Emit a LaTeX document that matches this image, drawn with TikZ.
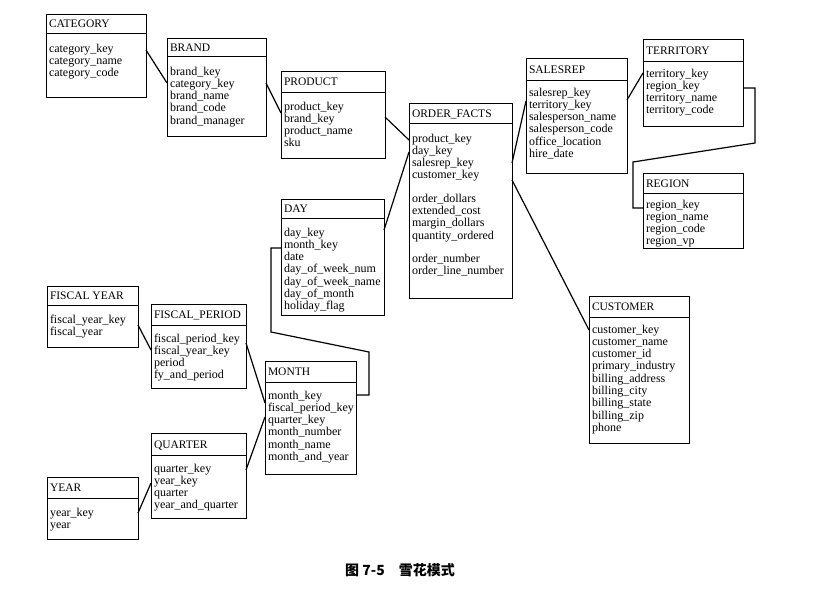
\documentclass[tikz,border=0pt]{standalone}
\usepackage{fontspec}
\setmainfont{Liberation Serif}
\newfontfamily\cjk{Noto Sans CJK SC}
\newcommand\erTable[9]{%
  \node[hdr, minimum height=#5pt] (#1) at (#2,#3)
    {\parbox[b]{\dimexpr#4pt-6pt\relax}{#8}};
  \node[bdy] (#1b) at (#1.south west)
    {\parbox[c][#6pt][t]{\dimexpr#4pt-6pt\relax}{\fontsize{12}{12.3}\selectfont\raggedright\rule{0pt}{#7pt}#9}};
}
\begin{document}
\begin{tikzpicture}[x=1pt,y=-1pt,
  hdr/.style={draw, line width=0.9pt, anchor=north west, outer sep=0pt,
    inner xsep=3pt, inner ysep=0pt, text height=8.5pt, text depth=0pt,
    font=\fontsize{11.5}{12}\selectfont},
  bdy/.style={draw, line width=0.9pt, anchor=north west, outer sep=0pt,
    inner xsep=3pt, inner ysep=0pt},
  conn/.style={line width=1.2pt, line join=miter}]
\useasboundingbox (0,0) rectangle (816,600);

\erTable{cat}{46}{14}{100}{19}{64}{19}{CATEGORY}{category\_key\\category\_name\\category\_code}
\erTable{brand}{167}{38}{99}{18}{80}{19}{BRAND}{brand\_key\\category\_key\\brand\_name\\brand\_code\\brand\_manager}
\erTable{prod}{281}{71}{104}{21}{66}{18}{PRODUCT}{product\_key\\brand\_key\\product\_name\\sku}
\erTable{of}{409}{103}{103}{20}{175}{19}{ORDER\_FACTS}{product\_key\\day\_key\\salesrep\_key\\customer\_key\\[11pt]order\_dollars\\extended\_cost\\margin\_dollars\\quantity\_ordered\\[11pt]order\_number\\order\_line\_number}
\erTable{day}{281}{199}{103}{19}{97}{18}{DAY}{day\_key\\month\_key\\date\\day\_of\_week\_num\\day\_of\_week\_name\\day\_of\_month\\holiday\_flag}
\erTable{sales}{526}{58}{101}{22}{93}{16}{SALESREP}{salesrep\_key\\territory\_key\\salesperson\_name\\salesperson\_code\\office\_location\\hire\_date}
\erTable{terr}{643}{39}{100}{22}{65}{16}{TERRITORY}{territory\_key\\region\_key\\territory\_name\\territory\_code}
\erTable{reg}{643}{173}{100}{20}{55}{15}{REGION}{region\_key\\region\_name\\region\_code\\region\_vp}
\erTable{fy}{47}{286}{91}{19}{42}{18}{FISCAL YEAR}{fiscal\_year\_key\\fiscal\_year}
\erTable{fp}{151}{304}{95}{21}{63}{17}{FISCAL\_PERIOD}{fiscal\_period\_key\\fiscal\_year\_key\\period\\fy\_and\_period}
\erTable{month}{265}{361}{91}{21}{92}{17}{MONTH}{month\_key\\fiscal\_period\_key\\quarter\_key\\month\_number\\month\_name\\month\_and\_year}
\erTable{qtr}{151}{433}{95}{22}{63}{17}{QUARTER}{quarter\_key\\year\_key\\quarter\\year\_and\_quarter}
\erTable{year}{47}{477}{91}{21}{41}{18}{YEAR}{year\_key\\year}
\erTable{cust}{589}{296}{100}{21}{126}{16}{CUSTOMER}{customer\_key\\customer\_name\\customer\_id\\primary\_industry\\billing\_address\\billing\_city\\billing\_state\\billing\_zip\\phone}

% connectors
\draw[conn] ([yshift=-17pt]catb.north east) -- ([yshift=-27pt]brandb.north west);
\draw[conn] ([yshift=-27pt]brandb.north east) -- ([yshift=-21pt]prodb.north west);
\draw[conn] ([yshift=-25pt]prodb.north east) -- ([yshift=-17pt]ofb.north west);
\draw[conn] ([yshift=-12pt]dayb.north east) -- ([yshift=-29pt]ofb.north west);
\draw[conn] ([yshift=-40pt]ofb.north east) -- ([yshift=-21pt]salesb.north west);
\draw[conn] ([yshift=-57pt]ofb.north east) -- ([yshift=-13pt]custb.north west);
\draw[conn] ([yshift=-20pt]salesb.north east) -- ([yshift=-12pt]terrb.north west);
\coordinate (tk1) at (755,143);
\coordinate (tk2) at (633,162);
\draw[conn] ([yshift=-27pt]terrb.north east) -| (tk1) -- (tk2) |- ([yshift=-15pt]regb.north west);
\coordinate (dm1) at (271,332);
\coordinate (dm2) at (369,352);
\draw[conn] ([yshift=-30pt]dayb.north west) -| (dm1) -- (dm2) |- ([yshift=-13pt]monthb.north east);
\draw[conn] ([yshift=-20pt]fyb.north east) -- ([yshift=-25pt]fpb.north west);
\draw[conn] ([yshift=-18pt]fpb.north east) -- ([yshift=-21pt]monthb.north west);
\draw[conn] ([yshift=-15pt]qtrb.north east) -- ([yshift=-35pt]monthb.north west);
\draw[conn] ([yshift=-15pt]yearb.north east) -- ([yshift=-28pt]qtrb.north west);

% caption
\node[font=\cjk\bfseries\fontsize{14}{14}\selectfont] (cap) at (400,570) {图 7-5\quad 雪花模式};
\end{tikzpicture}
\end{document}
